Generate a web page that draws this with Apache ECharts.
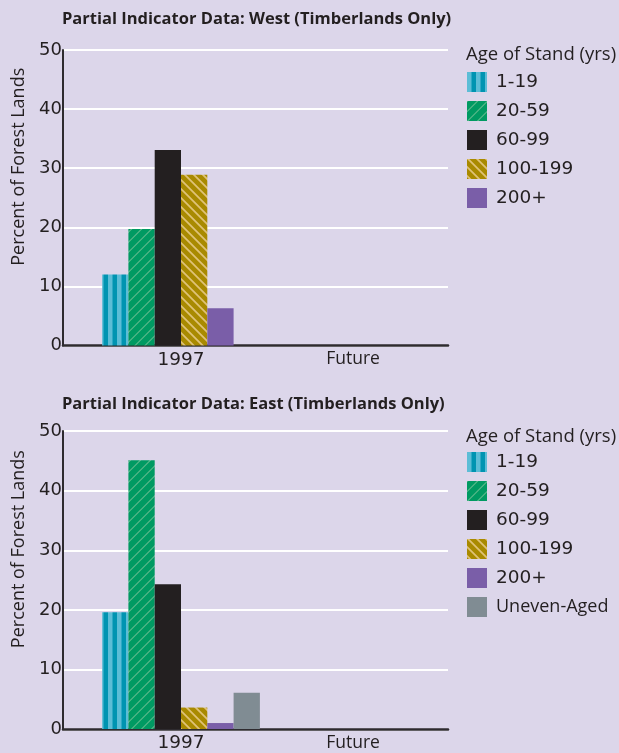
<!DOCTYPE html>
<html>
<head>
<meta charset="utf-8">
<script src="https://cdn.jsdelivr.net/npm/echarts@6/dist/echarts.min.js"></script>
<style>
  html, body { margin: 0; padding: 0; background: #dcd6ea; }
  #chart { width: 619px; height: 753px; }
</style>
</head>
<body>
<div id="chart"></div>
<script>
// Stand-age classes and the two time periods on the category axis
const categories = ['1997', 'Future'];
const ageClasses = ['1-19', '20-59', '60-99', '100-199', '200+', 'Uneven-Aged'];

// Percent of forest lands by age class (West has no uneven-aged class)
const west1997 = [12, 19.7, 33.1, 28.9, 6.3, null];
const westFuture = [null, null, null, null, null, null];
const east1997 = [19.6, 45.1, 24.3, 3.6, 1.0, 6.1];
const eastFuture = [null, null, null, null, null, null];

// Value-axis ticks
const yMin = 0, yMax = 50, yStep = 10;

const WORD_FONT = 'Open Sans';
const NUM_FONT = 'DejaVu Sans';
const INK = '#231f20';

// Numerals get the wider figure face, words the humanist one
const isNumeric = s => /^[\d\-+]+$/.test(s);
const styled = s => (isNumeric(s) ? '{n|' : '{w|') + s + '}';

// Build a small repeating tile for the hatched fills
function stripeTile(size, dir, width, base, stripe) {
  const c = document.createElement('canvas');
  c.width = size; c.height = size;
  const ctx = c.getContext('2d');
  const img = ctx.createImageData(size, size);
  const hex = h => [1, 3, 5].map(i => parseInt(h.substr(i, 2), 16));
  const b = hex(base), s = hex(stripe);
  const N = 4;
  for (let y = 0; y < size; y++) {
    for (let x = 0; x < size; x++) {
      let hit = 0;
      for (let sy = 0; sy < N; sy++) {
        for (let sx = 0; sx < N; sx++) {
          const px = x + (sx + 0.5) / N, py = y + (sy + 0.5) / N;
          let t;
          if (dir === 'v') t = px;
          else if (dir === '/') t = px + py;
          else t = px - py + size;
          if (((t % size) + size) % size < width) hit++;
        }
      }
      const a = hit / (N * N);
      const k = (y * size + x) * 4;
      for (let ch = 0; ch < 3; ch++) img.data[k + ch] = Math.round(b[ch] * (1 - a) + s[ch] * a);
      img.data[k + 3] = 255;
    }
  }
  ctx.putImageData(img, 0, 0);
  return { image: c, repeat: 'repeat' };
}

const fills = [
  stripeTile(9, 'v', 4.5, '#0094b1', '#5cbdd6'),
  stripeTile(10, '/', 1.5, '#009a62', '#5cb98b'),
  '#231f20',
  stripeTile(9, '\\', 2.4, '#a98a00', '#dfc277'),
  '#7a5ea8',
  '#808c93'
];

// Panel geometry: frame grid spans the axis lines, bar grid holds the categories
const panels = [
  { top: 50, bottom: 407.5, v1997: west1997, vFuture: westFuture,
    title: 'Partial Indicator Data: West (Timberlands Only)', titleTop: 11,
    legendHeadTop: 45, legendTop: 72, legendItems: ageClasses.slice(0, 5) },
  { top: 431, bottom: 23.7, v1997: east1997, vFuture: eastFuture,
    title: 'Partial Indicator Data: East (Timberlands Only)', titleTop: 396,
    legendHeadTop: 427, legendTop: 452, legendItems: ageClasses.slice() }
];

const grid = [], xAxis = [], yAxis = [], series = [], title = [], legend = [];

panels.forEach(p => {
  const frameIdx = grid.length;
  grid.push({ left: 63, width: 385, top: p.top, bottom: p.bottom, containLabel: false });
  const barIdx = grid.length;
  grid.push({ left: 95, width: 344, top: p.top, bottom: p.bottom, containLabel: false });

  // frame: axis lines, white gridlines, tick labels, axis name
  xAxis.push({
    gridIndex: frameIdx, type: 'value', min: 0, max: 1,
    axisLine: { show: true, onZero: false, lineStyle: { color: '#2e2b2f', width: 2.5 } },
    axisTick: { show: false }, axisLabel: { show: false }, splitLine: { show: false }
  });
  yAxis.push({
    gridIndex: frameIdx, type: 'value', min: yMin, max: yMax, interval: yStep,
    axisLine: { show: true, lineStyle: { color: '#2e2b2f', width: 2 } },
    axisTick: { show: false },
    axisLabel: { color: INK, fontFamily: NUM_FONT, fontSize: 18, margin: 1 },
    splitLine: { show: true, lineStyle: { color: '#ffffff', width: 2 } },
    name: 'Percent of Forest Lands', nameLocation: 'middle', nameGap: 29,
    nameTextStyle: { color: INK, fontFamily: WORD_FONT, fontSize: 18, padding: [0, 0, 0, 62] }
  });

  // bars on the category axis
  const catAxisIdx = xAxis.length;
  xAxis.push({
    gridIndex: barIdx, type: 'category', data: categories,
    axisLine: { show: false }, axisTick: { show: false },
    axisLabel: {
      margin: 5,
      formatter: styled,
      rich: {
        n: { color: INK, fontFamily: NUM_FONT, fontSize: 18.5 },
        w: { color: INK, fontFamily: WORD_FONT, fontSize: 17.5 }
      }
    }
  });
  const valAxisIdx = yAxis.length;
  yAxis.push({
    gridIndex: barIdx, type: 'value', min: yMin, max: yMax, interval: yStep, show: false
  });

  ageClasses.forEach((name, i) => {
    series.push({
      type: 'bar', name: name,
      xAxisIndex: catAxisIdx, yAxisIndex: valAxisIdx,
      data: [p.v1997[i], p.vFuture[i]],
      barWidth: 26.3, barGap: '0%',
      itemStyle: { color: fills[i] },
      silent: true
    });
  });

  title.push({
    text: p.title, left: 62, top: p.titleTop, padding: 0,
    textStyle: { color: INK, fontFamily: WORD_FONT, fontWeight: 'bold', fontSize: 16.5 }
  });
  title.push({
    text: 'Age of Stand (yrs)', left: 466, top: p.legendHeadTop, padding: 0,
    textStyle: { color: INK, fontFamily: WORD_FONT, fontWeight: 'normal', fontSize: 18.5 }
  });
  legend.push({
    orient: 'vertical', left: 467, top: p.legendTop, padding: 0,
    itemWidth: 20, itemHeight: 20, itemGap: 9, icon: 'rect',
    selectedMode: false, data: p.legendItems,
    formatter: styled,
    textStyle: {
      color: INK, padding: [0, 0, 0, 4],
      rich: {
        n: { color: INK, fontFamily: NUM_FONT, fontSize: 18.5, lineHeight: 20 },
        w: { color: INK, fontFamily: WORD_FONT, fontSize: 18, lineHeight: 20 }
      }
    }
  });
});

const chart = echarts.init(document.getElementById('chart'), null, { renderer: 'canvas' });
chart.setOption({
  backgroundColor: '#dcd6ea',
  animation: false,
  title, legend, grid, xAxis, yAxis, series
});
</script>
</body>
</html>
